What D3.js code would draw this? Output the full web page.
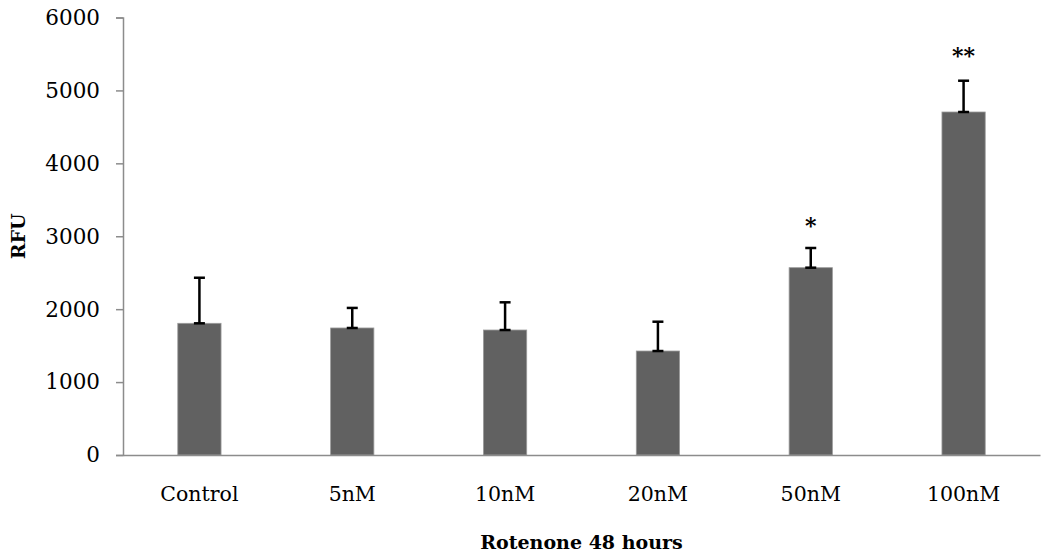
<!DOCTYPE html>
<html>
<head>
<meta charset="utf-8">
<script src="https://cdn.jsdelivr.net/npm/d3@7"></script>
<style>
  body { margin: 0; background: #fff; }
  svg { display: block; }
</style>
</head>
<body>
<svg id="chart" width="1050" height="558"></svg>
<script>
const categories = ["Control", "5nM", "10nM", "20nM", "50nM", "100nM"];
const values = [1806, 1742, 1714, 1426, 2569, 4704];
const errors = [625, 275, 380, 402, 270, 429];
const significance = ["", "", "", "", "*", "**"];
const yTicks = [0, 1000, 2000, 3000, 4000, 5000, 6000];

const svg = d3.select("#chart");
const margin = { left: 123, right: 10, top: 17.5, bottom: 103 };

const x = d3.scaleBand().domain(categories).range([margin.left, 1040]).padding(0);
const y = d3.scaleLinear().domain([0, 6000]).range([455, margin.top]);
const barW = x.bandwidth() * 0.283;
const serif = "'DejaVu Serif', serif";

// Y axis
const yAxis = svg.append("g")
  .attr("transform", `translate(${margin.left},0)`)
  .call(d3.axisLeft(y).tickValues(yTicks).tickSize(7).tickPadding(16).tickFormat(d3.format("d")));
yAxis.select(".domain").attr("stroke", "#8c8c8c").attr("stroke-width", 1.5);
yAxis.selectAll(".tick line").attr("stroke", "#8c8c8c").attr("stroke-width", 1.5);
yAxis.selectAll(".tick text").attr("font-family", serif).attr("font-size", 21.5).attr("fill", "#000");

// Bars
svg.append("g").selectAll("rect").data(categories).join("rect")
  .attr("x", (d) => x(d) + x.bandwidth() / 2 - barW / 2)
  .attr("y", (d, i) => y(values[i]))
  .attr("width", barW)
  .attr("height", (d, i) => y(0) - y(values[i]))
  .attr("fill", "#616161")
  .attr("stroke", "#9a9a9a")
  .attr("stroke-width", 0.8);

// X axis
const xAxis = svg.append("g")
  .attr("transform", `translate(0,${y(0)})`)
  .call(d3.axisBottom(x).tickSize(0).tickPadding(31));
xAxis.select(".domain").attr("stroke", "#8c8c8c").attr("stroke-width", 1.5);
xAxis.selectAll(".tick text").attr("font-family", serif).attr("font-size", 20.5).attr("fill", "#000");

// Error bars
const eb = svg.append("g").selectAll("g").data(categories).join("g");
const cx = (d) => x(d) + x.bandwidth() / 2;
eb.append("line")
  .attr("x1", cx).attr("x2", cx)
  .attr("y1", (d, i) => y(values[i]))
  .attr("y2", (d, i) => y(values[i] + errors[i]))
  .attr("stroke", "#000").attr("stroke-width", 2.5);
eb.append("line")
  .attr("x1", (d) => cx(d) - 5.5).attr("x2", (d) => cx(d) + 5.5)
  .attr("y1", (d, i) => y(values[i] + errors[i]))
  .attr("y2", (d, i) => y(values[i] + errors[i]))
  .attr("stroke", "#000").attr("stroke-width", 2.5);
eb.append("line")
  .attr("x1", (d) => cx(d) - 5.5).attr("x2", (d) => cx(d) + 5.5)
  .attr("y1", (d, i) => y(values[i]))
  .attr("y2", (d, i) => y(values[i]))
  .attr("stroke", "#000").attr("stroke-width", 2.5);

// Significance markers
svg.append("g").selectAll("text").data(categories).join("text")
  .attr("x", cx)
  .attr("y", (d, i) => y(values[i] + errors[i]) - (significance[i].length > 1 ? 18 : 15))
  .attr("text-anchor", "middle")
  .attr("font-family", serif)
  .attr("font-size", 22)
  .attr("font-weight", "bold")
  .attr("fill", "#000")
  .text((d, i) => significance[i]);

// Axis titles
svg.append("text")
  .attr("x", x.range()[0] + (x.range()[1] - x.range()[0]) / 2)
  .attr("y", 549)
  .attr("text-anchor", "middle")
  .attr("font-family", serif)
  .attr("font-weight", "bold")
  .attr("font-size", 19)
  .attr("fill", "#000")
  .text("Rotenone 48 hours");

svg.append("text")
  .attr("transform", `translate(25,${(y(0) + y(6000)) / 2}) rotate(-90)`)
  .attr("text-anchor", "middle")
  .attr("font-family", serif)
  .attr("font-weight", "bold")
  .attr("font-size", 19)
  .attr("fill", "#000")
  .text("RFU");
</script>
</body>
</html>
